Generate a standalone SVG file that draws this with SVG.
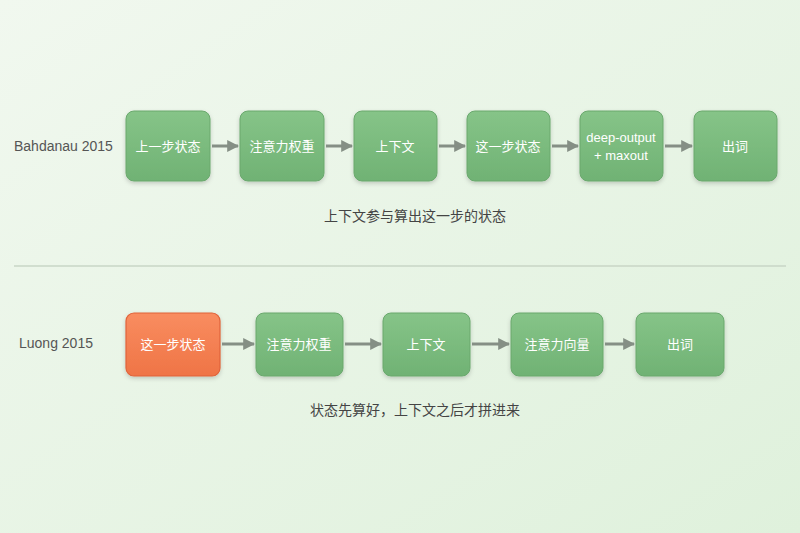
<svg xmlns="http://www.w3.org/2000/svg" width="800" height="533" viewBox="0 0 800 533">
<defs>
<linearGradient id="bg" x1="0" y1="0" x2="1" y2="1"><stop offset="0" stop-color="#f1f8ef"/><stop offset="1" stop-color="#dff1dc"/></linearGradient>
<linearGradient id="gr" x1="0" y1="0" x2="0" y2="1"><stop offset="0" stop-color="#86c488"/><stop offset="1" stop-color="#70b274"/></linearGradient>
<linearGradient id="or" x1="0" y1="0" x2="0" y2="1"><stop offset="0" stop-color="#f98d60"/><stop offset="1" stop-color="#ef7446"/></linearGradient>
<filter id="sh" x="-20%" y="-20%" width="140%" height="150%"><feDropShadow dx="0" dy="2" stdDeviation="2" flood-color="#000" flood-opacity="0.18"/></filter>
<marker id="ah" viewBox="0 0 10 10" refX="9" refY="5" markerWidth="4" markerHeight="4" orient="auto"><path d="M0,0 L10,5 L0,10 z" fill="#858f85"/></marker>
</defs>
<style>
.g rect{fill:url(#gr);stroke:#6aa86d;stroke-width:1}
.o rect{fill:url(#or);stroke:#e0633a;stroke-width:1.2}
.n rect{filter:url(#sh)}
.n text{fill:#fff;font-family:"Liberation Sans","Noto Sans CJK SC",sans-serif;font-size:13px;text-anchor:middle;dominant-baseline:central}
.lbl{fill:#555;font-family:"Liberation Sans","Noto Sans CJK SC",sans-serif;font-size:14px}
.cap{fill:#444;font-family:"Liberation Sans","Noto Sans CJK SC",sans-serif;font-size:14px;text-anchor:middle}
#connectors line{stroke:#858f85;stroke-width:3;marker-end:url(#ah)}
</style>
<rect width="800" height="533" fill="url(#bg)"/>
<text class="lbl" x="14" y="151">Bahdanau 2015</text>
<text class="lbl" x="19" y="348">Luong 2015</text>
<line x1="14" y1="266" x2="786" y2="266" stroke="#c9d6c6" stroke-width="1.5"/>
<text class="cap" x="415" y="221">上下文参与算出这一步的状态</text>
<text class="cap" x="415" y="415">状态先算好，上下文之后才拼进来</text>
<g id="a1" class="n g"><rect x="126" y="111" width="84" height="70" rx="8"/><text x="168" y="146">上一步状态</text></g>
<g id="a2" class="n g"><rect x="240" y="111" width="84" height="70" rx="8"/><text x="282" y="146">注意力权重</text></g>
<g id="a3" class="n g"><rect x="354" y="111" width="83" height="70" rx="8"/><text x="395" y="146">上下文</text></g>
<g id="a4" class="n g"><rect x="467" y="111" width="83" height="70" rx="8"/><text x="508" y="146">这一步状态</text></g>
<g id="a5" class="n g"><rect x="580" y="111" width="83" height="70" rx="8"/><text x="621" y="137">deep-output</text><text x="621" y="155">+ maxout</text></g>
<g id="a6" class="n g"><rect x="694" y="111" width="83" height="70" rx="8"/><text x="735" y="146">出词</text></g>
<g id="b1" class="n o"><rect x="126" y="313" width="94" height="63" rx="8"/><text x="173" y="344">这一步状态</text></g>
<g id="b2" class="n g"><rect x="256" y="313" width="87" height="63" rx="8"/><text x="299" y="344">注意力权重</text></g>
<g id="b3" class="n g"><rect x="383" y="313" width="87" height="63" rx="8"/><text x="426" y="344">上下文</text></g>
<g id="b4" class="n g"><rect x="511" y="313" width="92" height="63" rx="8"/><text x="557" y="344">注意力向量</text></g>
<g id="b5" class="n g"><rect x="636" y="313" width="88" height="63" rx="8"/><text x="680" y="344">出词</text></g>
<g id="connectors">
<line x1="212" y1="146" x2="238" y2="146"/>
<line x1="326" y1="146" x2="352" y2="146"/>
<line x1="439" y1="146" x2="465" y2="146"/>
<line x1="552" y1="146" x2="578" y2="146"/>
<line x1="665" y1="146" x2="692" y2="146"/>
<line x1="222" y1="344" x2="254" y2="344"/>
<line x1="345" y1="344" x2="381" y2="344"/>
<line x1="472" y1="344" x2="509" y2="344"/>
<line x1="605" y1="344" x2="634" y2="344"/>
</g>
</svg>
